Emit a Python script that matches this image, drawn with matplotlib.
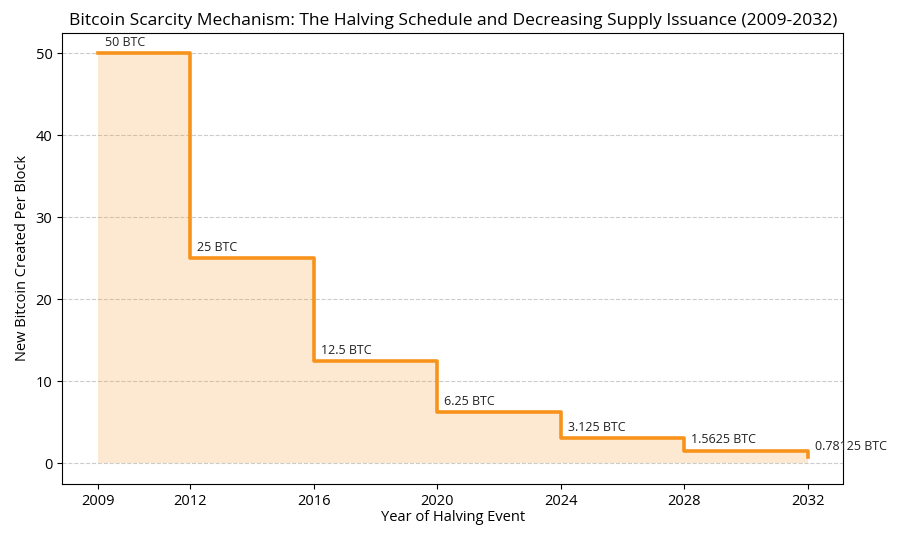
import matplotlib
matplotlib.use("Agg")
import matplotlib.pyplot as plt

plt.rcParams['font.family'] = ['Open Sans', 'DejaVu Sans']

years = [2009, 2012, 2016, 2020, 2024, 2028, 2032]
rewards = [50, 25, 12.5, 6.25, 3.125, 1.5625, 0.78125]
labels = ["50 BTC", "25 BTC", "12.5 BTC", "6.25 BTC", "3.125 BTC", "1.5625 BTC", "0.78125 BTC"]

orange = "#F7931A"

fig, ax = plt.subplots(figsize=(9, 5.4), dpi=100)
ax.step(years, rewards, where="post", color=orange, linewidth=2.6, zorder=3)
ax.fill_between(years, rewards, step="post", color=orange, alpha=0.2, linewidth=0, zorder=2)

for x, y, t in zip(years, rewards, labels):
    ax.annotate(t, (x, y), xytext=(5, 3), textcoords="offset points",
                ha="left", va="bottom", fontsize=9, color="#222222")

ax.set_xticks(years)
ax.set_xticklabels([str(y) for y in years], fontsize=10.5)
ax.tick_params(axis="y", labelsize=10.5)
ax.set_title("Bitcoin Scarcity Mechanism: The Halving Schedule and Decreasing Supply Issuance (2009-2032)",
             fontsize=12.5, pad=6)
ax.set_xlabel("Year of Halving Event", fontsize=10.5, labelpad=1)
ax.set_ylabel("New Bitcoin Created Per Block", fontsize=10.5)
ax.grid(axis="y", linestyle="--", color="#cccccc", linewidth=0.8)
ax.set_axisbelow(True)

fig.subplots_adjust(left=0.069, right=0.937, top=0.939, bottom=0.104)
fig.savefig("out.png", dpi=100)
